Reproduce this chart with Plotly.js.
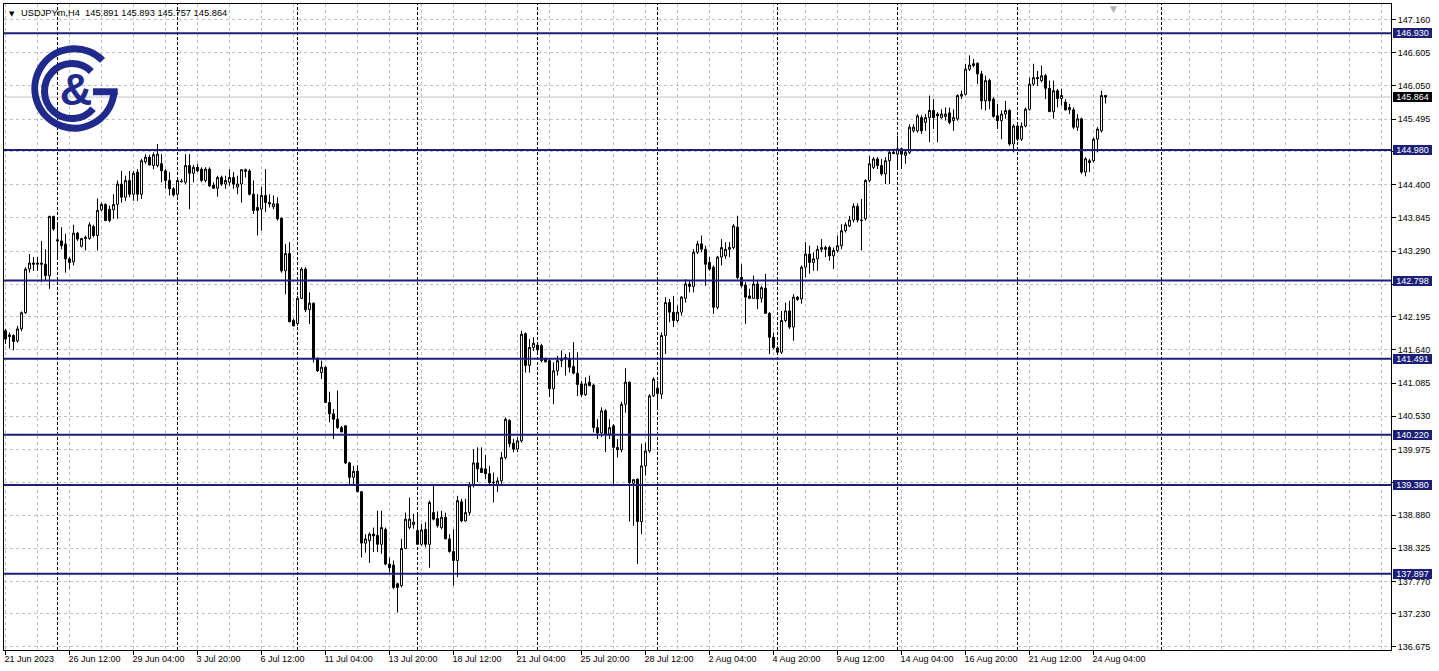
<!DOCTYPE html>
<html><head><meta charset="utf-8">
<script src="https://cdn.plot.ly/plotly-3.0.1.min.js"></script>
<style>
html,body{margin:0;padding:0;background:#fff;}
#wrap{position:relative;width:1439px;height:671px;overflow:hidden;}
#chart{width:1439px;height:671px;}
#logo{position:absolute;left:0;top:0;pointer-events:none;}
</style>
</head><body>
<div id="wrap">
<div id="chart"></div>
<svg id="logo" width="140" height="140" viewBox="0 0 140 140">
  <path d="M102.6,60.4 A39.7,39.7 0 1 0 114.05,91.96" fill="none" stroke="#1f2a8c" stroke-width="7"/>
  <rect x="93" y="88.3" width="24.7" height="6.9" fill="#1f2a8c"/>
  <path d="M91.4,71.6 A27.5,27.5 0 1 0 93.1,108.7" fill="none" stroke="#1f2a8c" stroke-width="7"/>
  <text x="76" y="105" text-anchor="middle" font-family="Liberation Sans, Arial, sans-serif" font-weight="bold" font-size="45" fill="#1f2a8c">&amp;</text>
</svg>
</div>
<script>
// ---- data (H4 bars, USDJPYm) ----
const symbolTitle = "USDJPYm,H4";
const lastQuote = ["145.891", "145.893", "145.757", "145.864"];

const open = [
141.96,141.86,141.88,141.79,141.99,142.26,142.99,143.09,143.07,143.09,
143.07,142.88,143.87,143.48,143.46,143.41,143.16,143.11,143.59,143.37,
143.50,143.50,143.70,143.55,143.98,144.07,143.99,143.98,144.07,144.41,
144.19,144.47,144.24,144.61,144.24,144.78,144.86,144.72,144.72,144.75,
144.63,144.47,144.33,144.24,144.46,144.44,144.72,144.59,144.69,144.66,
144.47,144.66,144.39,144.34,144.52,144.41,144.44,144.52,144.36,144.41,
144.62,144.63,144.24,144.02,143.99,144.22,144.10,144.03,144.08,143.84,
142.96,143.25,142.13,142.08,142.50,142.99,142.31,142.42,141.50,141.26,
141.35,140.76,140.57,140.48,140.34,140.37,139.75,139.51,139.61,139.27,
138.41,138.45,138.56,138.54,138.39,138.64,138.06,138.04,137.73,137.70,
138.32,138.67,138.72,138.62,138.39,138.64,138.39,138.92,138.82,138.67,
138.84,138.48,138.27,138.12,139.10,138.78,138.92,139.37,139.75,139.66,
139.65,139.57,139.43,139.37,139.45,139.84,140.46,140.08,139.98,140.12,
141.91,141.38,141.68,141.72,141.71,141.49,141.46,140.99,141.29,141.46,
141.49,141.49,141.36,141.25,141.07,140.89,141.10,141.05,140.34,140.25,
140.62,140.23,140.37,140.01,139.97,140.73,141.10,139.41,139.48,138.77,
139.70,139.95,140.87,141.00,140.90,141.88,142.43,142.27,142.13,142.27,
142.50,142.74,142.70,143.27,143.41,143.32,143.10,143.02,142.35,143.19,
143.21,143.32,143.35,143.69,142.85,142.72,142.54,142.50,142.74,142.50,
142.67,142.25,141.85,141.67,141.60,142.13,142.29,142.02,142.52,142.49,
143.02,143.24,143.10,143.16,143.32,143.35,143.35,143.21,143.30,143.38,
143.63,143.71,143.81,144.04,143.81,143.83,144.47,144.69,144.83,144.72,
144.58,144.80,144.94,144.91,145.00,144.89,144.94,145.30,145.30,145.52,
145.44,145.52,145.64,145.58,145.52,145.54,145.60,145.47,145.50,145.88,
145.91,146.33,146.42,146.43,146.25,145.80,146.14,145.83,145.55,145.47,
145.58,145.64,145.08,145.38,145.16,145.38,145.66,146.08,146.19,146.14,
146.22,146.01,145.62,145.97,145.84,145.78,145.65,145.65,145.36,145.50,
144.61,144.80,144.80,145.16,145.30,145.891];

const high = [
141.99,141.93,141.90,142.04,142.28,143.02,143.24,143.19,143.19,143.46,
143.32,143.88,143.88,143.73,143.69,143.58,143.19,143.73,143.61,143.51,
143.55,143.77,143.73,144.17,144.10,144.09,144.05,144.24,144.47,144.63,
144.55,144.63,144.63,144.66,144.83,144.91,144.90,144.94,145.08,144.91,
144.66,144.61,144.36,144.50,144.50,144.91,144.91,144.73,144.75,144.69,
144.69,144.69,144.44,144.55,144.55,144.55,144.66,144.61,144.55,144.66,
144.67,144.66,144.47,144.24,144.36,144.66,144.24,144.22,144.19,143.85,
143.41,143.44,142.16,142.54,143.02,143.02,142.60,142.43,141.51,141.46,
141.37,140.94,140.65,140.96,140.37,140.38,139.77,139.70,139.71,139.28,
138.56,138.59,138.67,138.95,138.95,138.67,138.17,138.12,137.75,138.48,
138.92,139.17,138.90,138.90,138.73,138.76,139.12,139.40,138.94,138.95,
138.92,138.56,138.64,139.20,139.15,139.15,139.43,139.98,140.01,140.01,
139.88,139.70,139.59,139.51,139.93,140.51,140.48,140.15,140.18,141.96,
141.93,141.82,141.85,141.76,141.74,141.51,141.49,141.43,141.54,141.63,
141.57,141.60,141.77,141.60,141.12,141.18,141.21,141.07,140.48,140.68,
140.65,140.48,140.40,140.15,140.77,141.33,141.11,139.48,139.49,140.07,
140.09,140.90,141.18,141.12,141.93,142.52,142.49,142.54,142.38,142.54,
142.82,142.80,143.32,143.46,143.55,143.38,143.19,143.05,143.21,143.49,
143.44,143.44,143.74,143.88,143.07,142.77,142.66,142.88,142.80,142.71,
142.91,142.27,141.93,141.70,142.29,142.43,142.46,142.57,142.54,143.05,
143.44,143.38,143.27,143.38,143.49,143.38,143.38,143.35,143.55,143.74,
143.77,143.88,144.09,144.09,144.16,144.49,144.88,144.86,144.86,144.83,
144.86,144.97,145.00,145.22,145.02,144.97,145.41,145.41,145.58,145.56,
145.58,145.89,145.83,145.61,145.66,145.69,145.69,145.66,145.91,145.97,
146.42,146.56,146.50,146.44,146.30,146.22,146.17,145.86,145.75,145.64,
145.80,145.66,145.41,145.44,145.44,145.69,146.19,146.42,146.30,146.39,
146.25,146.14,146.14,146.00,146.00,145.83,145.75,145.69,145.58,145.52,
144.86,144.83,145.19,145.36,145.97,145.893];

const low = [
141.74,141.66,141.63,141.76,141.95,142.24,142.93,142.96,142.96,142.77,
142.80,142.66,143.63,143.19,143.32,142.93,142.99,143.05,143.46,143.35,
143.30,143.48,143.52,143.30,143.95,143.79,143.77,143.83,143.83,144.10,
144.13,144.19,144.13,144.13,144.16,144.75,144.72,144.66,144.69,144.44,
144.33,144.22,144.20,144.20,144.44,144.41,143.99,144.44,144.61,144.44,
144.44,144.36,144.33,144.20,144.38,144.33,144.38,144.33,144.24,144.10,
144.52,144.22,143.91,143.55,143.63,143.94,144.02,143.99,143.80,142.93,
142.57,142.10,142.03,142.04,142.49,142.27,142.07,141.43,141.27,141.15,
140.75,140.43,140.15,140.32,140.26,139.73,139.37,139.37,139.26,138.17,
138.25,138.08,138.26,138.26,138.23,138.04,137.92,137.64,137.25,137.67,
138.31,138.64,138.65,138.39,138.37,138.34,138.00,138.79,138.67,138.64,
138.48,138.25,137.70,137.84,138.76,138.77,138.87,139.34,139.43,139.59,
139.48,139.37,139.09,139.26,139.40,139.81,140.01,139.93,139.93,140.09,
141.26,141.26,141.62,141.60,141.43,141.43,140.85,140.73,141.21,141.35,
141.21,141.26,141.23,140.87,140.85,140.87,141.04,140.26,140.15,140.18,
139.93,140.15,139.40,139.84,139.93,140.59,138.77,138.70,138.06,138.56,
139.54,139.92,140.85,140.68,140.82,141.57,142.10,142.02,142.10,142.21,
142.43,142.60,142.60,143.24,143.27,142.71,142.96,142.24,142.32,143.05,
143.16,143.19,143.32,142.82,142.68,142.07,142.49,142.49,142.32,142.43,
142.24,141.57,141.65,141.55,141.57,142.10,141.99,141.79,142.46,142.41,
142.85,142.91,142.96,142.96,143.27,143.19,143.13,142.99,143.27,143.32,
143.60,143.69,143.77,143.77,143.30,143.80,144.44,144.66,144.66,144.55,
144.41,144.41,144.91,144.66,144.66,144.75,144.91,145.27,145.27,145.25,
145.30,145.11,145.33,145.11,145.50,145.47,145.41,145.30,145.47,145.83,
145.89,146.30,146.36,146.08,145.66,145.64,145.66,145.52,145.33,145.16,
145.50,145.05,144.94,145.13,145.13,145.36,145.64,146.05,146.05,146.11,
145.83,145.62,145.50,145.69,145.72,145.64,145.58,145.33,145.30,144.58,
144.54,144.61,144.77,144.94,145.27,145.757];

const close = [
141.82,141.89,141.78,141.99,142.26,142.99,143.09,143.07,143.09,143.07,
142.88,143.87,143.66,143.46,143.38,143.16,143.10,143.59,143.49,143.50,
143.52,143.73,143.55,143.97,144.07,143.80,143.80,144.07,144.41,144.19,
144.47,144.24,144.59,144.24,144.80,144.86,144.73,144.90,144.91,144.63,
144.47,144.33,144.23,144.47,144.45,144.72,144.59,144.69,144.63,144.47,
144.66,144.38,144.34,144.52,144.41,144.47,144.52,144.41,144.41,144.65,
144.65,144.24,143.97,143.97,144.22,144.10,144.08,144.08,143.83,142.96,
143.25,142.11,142.04,142.50,142.99,142.31,142.42,141.49,141.29,141.35,
140.76,140.57,140.48,140.34,140.27,139.75,139.51,139.61,139.27,138.41,
138.48,138.56,138.53,138.39,138.67,138.06,138.00,137.67,137.67,138.32,
138.81,138.81,138.76,138.39,138.63,138.39,139.09,138.81,138.70,138.84,
138.48,138.27,138.12,139.12,138.78,138.92,139.37,139.75,139.65,139.59,
139.57,139.42,139.42,139.45,139.84,140.48,140.07,139.98,140.12,141.90,
141.38,141.68,141.75,141.64,141.46,141.44,140.99,141.29,141.46,141.49,
141.51,141.35,141.25,141.06,140.89,141.07,141.04,140.34,140.25,140.62,
140.23,140.34,140.01,139.97,140.73,141.10,139.42,139.47,138.77,139.70,
139.95,140.87,141.15,140.91,141.88,142.43,142.27,142.13,142.27,142.52,
142.74,142.70,143.27,143.41,143.32,143.07,142.99,142.35,143.19,143.35,
143.32,143.35,143.71,142.85,142.71,142.52,142.50,142.74,142.49,142.68,
142.25,141.85,141.68,141.60,142.13,142.29,142.02,142.52,142.48,143.02,
143.24,143.10,143.16,143.32,143.35,143.32,143.21,143.30,143.38,143.63,
143.73,143.81,144.04,143.81,143.80,144.47,144.75,144.83,144.72,144.58,
144.80,144.94,144.92,145.00,144.91,144.94,145.36,145.36,145.55,145.30,
145.52,145.64,145.52,145.55,145.58,145.58,145.44,145.52,145.89,145.91,
146.33,146.40,146.39,146.25,145.80,146.14,145.80,145.54,145.47,145.58,
145.64,145.08,145.38,145.16,145.38,145.66,146.08,146.19,146.17,146.22,
146.01,145.62,145.97,145.84,145.89,145.65,145.69,145.36,145.50,144.61,
144.83,144.77,145.16,145.33,145.89,145.864];

// bar index of the time-axis labels and their text
const xTickIdx = [0,16,32,48,64,80,96,112,128,144,160,176,192,208,224,240,256,272];
const xTickText = ["21 Jun 2023","26 Jun 12:00","29 Jun 04:00","3 Jul 20:00","6 Jul 12:00",
  "11 Jul 04:00","13 Jul 20:00","18 Jul 12:00","21 Jul 04:00","25 Jul 20:00","28 Jul 12:00",
  "2 Aug 04:00","4 Aug 20:00","9 Aug 12:00","14 Aug 04:00","16 Aug 20:00","21 Aug 12:00","24 Aug 04:00"];
// weekly period separators (bar index)
const weekStarts = [13,43,73,103,133,163,193,223,253,289];
// price scale (grid rows); labels hidden under the level boxes are left blank
const yTicks = [147.160,146.605,146.050,145.495,144.950,144.400,143.845,143.290,142.740,142.195,
  141.640,141.085,140.530,139.975,139.430,138.880,138.325,137.770,137.230,136.675];
const yTickText = ["147.160","146.605","146.050","145.495","","144.400","143.845","143.290","","142.195",
  "141.640","141.085","140.530","139.975","","138.880","138.325","137.770","137.230","136.675"];
// horizontal levels
const levels = [146.930,144.980,142.798,141.491,140.220,139.380,137.897];
const bid = 145.864;

// ---- drawing ----
const FONT = "Liberation Sans, Arial, sans-serif";
const NAVY = "#1b1f78";
const GRID = "#c0c0c0";
const idx = open.map((_, i) => i);

const trace = {
  type: "candlestick", x: idx, open: open, high: high, low: low, close: close,
  increasing: {line: {color: "#000", width: 1}, fillcolor: "#fff"},
  decreasing: {line: {color: "#000", width: 1}, fillcolor: "#000"},
  whiskerwidth: 0, hoverinfo: "skip", showlegend: false
};

const shapes = [];
weekStarts.forEach(w => shapes.push({type: "line", xref: "x", yref: "paper", x0: w, x1: w, y0: 0, y1: 1,
  line: {color: "#000", width: 1, dash: "3px,2px"}, layer: "below"}));
shapes.push({type: "line", xref: "paper", yref: "y", x0: 0, x1: 1, y0: bid, y1: bid,
  line: {color: "#c0c0c0", width: 1}, layer: "below"});
levels.forEach(v => shapes.push({type: "line", xref: "paper", yref: "y", x0: 0, x1: 1, y0: v, y1: v,
  line: {color: NAVY, width: 2}, layer: "above"}));

const annotations = [];
levels.forEach(v => annotations.push({xref: "paper", x: 1, xanchor: "left", xshift: 2, yref: "y", y: v,
  yanchor: "middle", text: v.toFixed(3), showarrow: false, bgcolor: NAVY, borderpad: 0, borderwidth: 0,
  width: 39, height: 10, align: "center", font: {family: FONT, size: 9, color: "#fff"}}));
annotations.push({xref: "paper", x: 1, xanchor: "left", xshift: 2, yref: "y", y: bid,
  yanchor: "middle", text: bid.toFixed(3), showarrow: false, bgcolor: "#000", borderpad: 0, borderwidth: 0,
  width: 39, height: 10, align: "center", font: {family: FONT, size: 9, color: "#fff"}});
annotations.push({xref: "paper", x: 0, xanchor: "left", xshift: 3, yref: "paper", y: 1, yanchor: "top", yshift: -4,
  text: "▼", showarrow: false, font: {family: "DejaVu Sans", size: 7, color: "#000"}});
annotations.push({xref: "paper", x: 0, xanchor: "left", xshift: 15, yref: "paper", y: 1, yanchor: "top", yshift: -2,
  text: symbolTitle + "\u00a0\u00a0" + lastQuote.join(" "), showarrow: false,
  font: {family: FONT, size: 9.3, color: "#000"}});
annotations.push({xref: "x", x: 277, xanchor: "center", yref: "paper", y: 1, yanchor: "top", yshift: 2,
  text: "▼", showarrow: false, font: {family: "DejaVu Sans", size: 9, color: "#b0b0b0"}});

const layout = {
  width: 1439, height: 671,
  margin: {l: 4, r: 48, t: 4, b: 21, pad: 0},
  paper_bgcolor: "#fff", plot_bgcolor: "#fff",
  showlegend: false, hovermode: false, dragmode: false,
  xaxis: {
    type: "linear", range: [-0.375, 346.375], rangeslider: {visible: false},
    tickmode: "array", tickvals: xTickIdx, ticktext: xTickText,
    ticks: "outside", ticklen: 4, tickwidth: 1, tickcolor: "#000",
    ticklabelposition: "outside right", ticklabelshift: -2,
    showgrid: true, gridcolor: GRID, griddash: "3px,3px", gridwidth: 1,
    minor: {tickmode: "linear", tick0: 0, dtick: 8, showgrid: true, gridcolor: GRID, griddash: "3px,3px", gridwidth: 1, ticks: ""},
    showline: true, linecolor: "#000", linewidth: 1, mirror: true, zeroline: false,
    tickfont: {family: FONT, size: 9, color: "#000"}, fixedrange: true
  },
  yaxis: {
    side: "right", range: [136.624, 147.419],
    tickmode: "array", tickvals: yTicks, ticktext: yTickText,
    ticks: "outside", ticklen: 4, tickwidth: 1, tickcolor: "#000",
    showgrid: true, gridcolor: GRID, griddash: "3px,3px", gridwidth: 1,
    showline: true, linecolor: "#000", linewidth: 1, mirror: true, zeroline: false,
    tickfont: {family: FONT, size: 9, color: "#000"}, fixedrange: true
  },
  shapes: shapes, annotations: annotations
};

Plotly.newPlot("chart", [trace], layout, {displayModeBar: false, staticPlot: true});
</script>
</body></html>
